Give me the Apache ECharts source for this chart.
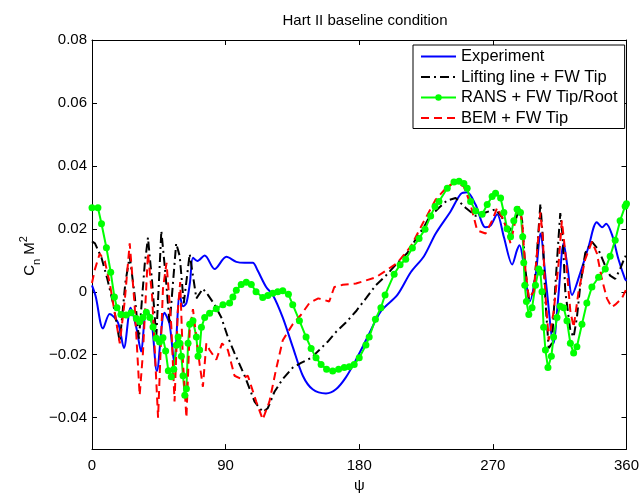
<!DOCTYPE html>
<html>
<head>
<meta charset="utf-8">
<script src="https://cdn.jsdelivr.net/npm/echarts@6/dist/echarts.min.js"></script>
<style>
  html, body { margin: 0; padding: 0; background: #fff; }
  #chart { width: 642px; height: 498px; }
</style>
</head>
<body>
<div id="chart"></div>
<script>
  // tick positions
  const xTicks = [0, 90, 180, 270, 360]
  const yTicks = [-0.04, -0.02, 0, 0.02, 0.04, 0.06, 0.08]

  // Experiment
  const expPsi = [0, 2.5, 7.4, 11.9, 17.5, 21.5, 26, 29.8, 33.1, 36.5, 39.8, 43.7, 48.8, 52.2, 55.4, 59.1, 61.3, 63.6, 66, 68, 71, 75.9, 82.6, 90.5, 97.2, 102.8, 108.3, 111.5, 117.3, 121.8, 128.5, 135.2, 142, 148.6, 157.6, 164.3, 171, 177.8, 185.6, 194.6, 205.7, 214.7, 223.6, 231.5, 241.6, 248.3, 252.7, 258.3, 265, 268.4, 272.9, 277.4, 283, 286.3, 288, 291, 295, 299, 302, 306, 310.8, 314, 317.7, 320.5, 323.3, 329, 334.5, 340, 343.6, 346.3, 350.4, 354.6, 359, 360]
  const expVal = [0.002, -0.0015, -0.0117, -0.0071, -0.0098, -0.0179, -0.0051, -0.0113, -0.019, -0.0062, -0.0082, -0.0252, -0.0067, -0.0102, -0.0225, -0.0009, -0.0046, -0.0036, 0.003, 0.0108, 0.0098, 0.0115, 0.0072, 0.0111, 0.0095, 0.0092, 0.0092, 0.0068, 0.0015, -0.001, -0.0082, -0.0175, -0.0267, -0.031, -0.0323, -0.031, -0.0272, -0.0216, -0.0144, -0.0062, -0.001, 0.0062, 0.0113, 0.0185, 0.0256, 0.031, 0.0316, 0.0277, 0.0205, 0.021, 0.0246, 0.0174, 0.0087, 0.0133, 0.0148, 0.008, -0.003, 0.006, 0.0185, 0.002, -0.0164, -0.002, 0.0154, 0.007, -0.001, 0.0062, 0.0144, 0.0221, 0.0205, 0.0216, 0.0179, 0.0103, 0.0041, 0.0035]

  // Lifting line + FW Tip
  const llPsi = [0, 2, 6.4, 10.3, 14.2, 18.7, 22.5, 25.4, 28.7, 31.6, 35.5, 37.7, 40.5, 43.3, 46.7, 49.5, 52.3, 56.7, 59.1, 61.8, 65.8, 68, 70.3, 74.7, 78.1, 82.6, 87.1, 91.5, 96, 102.8, 109.5, 115, 118.4, 122.9, 128.5, 135.2, 140.8, 147.6, 153.1, 158.7, 164.3, 171, 177.8, 184.5, 191.2, 197.9, 204.6, 212.4, 219.1, 223.6, 227, 233.7, 239.1, 244.9, 251.6, 258.4, 265.1, 271.8, 276.2, 280.7, 285.2, 287.9, 289.7, 291.9, 294.2, 297.5, 299.7, 302, 303.6, 305.4, 307.6, 309.8, 312.1, 314.3, 315.4, 317, 318.8, 322.2, 324.4, 326.6, 328.9, 332.2, 336.7, 341.2, 345.7, 349, 352.4, 355.7, 359.1, 360]
  const llVal = [0.016, 0.0154, 0.0108, 0.0041, -0.0036, -0.0159, 0.003, 0.0113, -0.001, -0.0149, 0.0087, 0.0172, 0.0031, -0.0144, 0.0193, 0.0056, -0.0103, 0.0154, 0.0113, -0.0037, 0.012, 0.0051, -0.0021, 0.001, -0.001, -0.0041, -0.0082, -0.0144, -0.0195, -0.0267, -0.0349, -0.0382, -0.037, -0.0318, -0.0277, -0.0241, -0.0226, -0.021, -0.0185, -0.0159, -0.0128, -0.0098, -0.0062, -0.0021, 0.0021, 0.0051, 0.0086, 0.0123, 0.0175, 0.0206, 0.0236, 0.0267, 0.029, 0.0298, 0.0267, 0.0241, 0.0252, 0.0262, 0.0236, 0.019, 0.0226, 0.0267, 0.0226, 0.0072, -0.0021, 0, 0.0123, 0.028, 0.0175, -0.0031, -0.0179, -0.0164, 0.0021, 0.0175, 0.025, 0.0175, 0, -0.0123, -0.0144, -0.0082, 0.0021, 0.0123, 0.0159, 0.0133, 0.0082, 0.0051, 0.0041, 0.0072, 0.0113, 0.011]

  // RANS + FW Tip/Root
  const ransPsi = [0, 4, 6.4, 9.7, 12.6, 15.1, 16.8, 19.5, 23, 26.4, 29.9, 32.2, 34.3, 36.6, 39, 41.1, 43.3, 45.5, 47.8, 49.6, 51.4, 53.4, 55.1, 56.8, 58, 59.1, 60.2, 61.3, 62.5, 63.6, 64.7, 65.8, 68, 70.3, 71.4, 72.5, 73.7, 75.9, 79.2, 83.7, 88.2, 92.7, 94.9, 97.2, 100.5, 103.9, 107.3, 110.5, 115, 118.4, 121.8, 125.1, 128.5, 132.3, 135.2, 139.7, 144.2, 147.6, 150.9, 154.3, 158, 162.1, 166.1, 169.9, 173.3, 176.6, 180, 184.5, 186.7, 190.9, 194.6, 197.4, 203.5, 207.5, 211.3, 215.8, 220.3, 224.3, 228.1, 231, 233.7, 239.3, 243.8, 247.2, 250.5, 252.7, 255, 258.4, 262.8, 266.2, 269.5, 271.8, 275.2, 277.4, 279.6, 281.9, 284.1, 286.3, 288.6, 290.1, 290.8, 291.5, 292.6, 294.2, 296.4, 298.7, 300.9, 302, 303.1, 304.2, 305.4, 307.1, 309.4, 310.9, 313.2, 315.4, 317.7, 319.9, 322.2, 324.4, 326.6, 330, 333.3, 336.7, 341.2, 345.7, 349, 352.4, 355.7, 359.1, 360]
  const ransVal = [0.0267, 0.0267, 0.0216, 0.014, 0.0062, -0.0017, -0.0051, -0.0072, -0.0074, -0.0067, -0.0085, -0.0095, -0.0082, -0.0065, -0.0082, -0.0112, -0.0148, -0.016, -0.0146, -0.0188, -0.0251, -0.027, -0.0246, -0.017, -0.0144, -0.0164, -0.0205, -0.0267, -0.0329, -0.0308, -0.0164, -0.0103, -0.0092, -0.0144, -0.0205, -0.0185, -0.0113, -0.0082, -0.0068, -0.0054, -0.0041, -0.0036, -0.0017, 0.0005, 0.0023, 0.003, 0.0023, 0, -0.0018, -0.0012, -0.0005, 0, 0.0003, -0.0008, -0.0041, -0.0092, -0.0144, -0.018, -0.021, -0.0231, -0.0246, -0.0252, -0.0246, -0.0241, -0.0238, -0.0231, -0.021, -0.0169, -0.0144, -0.0087, -0.0051, -0.001, 0.0056, 0.0086, 0.0103, 0.0139, 0.0169, 0.0199, 0.0241, 0.0271, 0.0287, 0.0329, 0.0349, 0.0351, 0.0344, 0.0329, 0.0287, 0.0257, 0.0246, 0.0277, 0.0303, 0.0313, 0.0298, 0.0252, 0.02, 0.0175, 0.0226, 0.0262, 0.0252, 0.0175, 0.0092, 0.0021, -0.0031, -0.0072, -0.0051, 0.0021, 0.0072, 0.0062, 0, -0.0113, -0.0185, -0.0241, -0.0205, -0.0144, -0.0082, -0.0046, -0.0051, -0.0092, -0.0164, -0.0195, -0.0175, -0.0103, -0.0036, 0.0015, 0.0046, 0.0072, 0.0113, 0.0164, 0.0226, 0.0272, 0.028]

  // BEM + FW Tip
  const bemPsi = [0, 2, 5.2, 8.6, 12, 15.3, 18.7, 22, 25.4, 28.7, 32.1, 34.3, 37.7, 40.5, 44.5, 47.8, 50.2, 53.4, 55.6, 57.8, 59.4, 61.3, 63.6, 65.8, 68, 72.5, 74.7, 77, 79.2, 83.7, 87.6, 91.5, 96, 100.5, 105, 110.6, 115, 119.5, 124, 128.5, 135.2, 140.8, 146.4, 152.4, 159.8, 163.2, 168.9, 177.8, 184.5, 191.2, 197.9, 205.7, 214.7, 223, 231.5, 239.3, 244.9, 250.5, 255, 259.4, 265.1, 269.5, 272.9, 277.4, 281.9, 285.2, 287.4, 289.7, 291.9, 294.2, 297.5, 299.7, 302, 303.6, 305.4, 307.6, 311, 314.3, 316.5, 318.8, 322.2, 324.4, 327.7, 332.2, 336.7, 340, 343.4, 346.8, 350, 352.4, 356.9, 360]
  const bemVal = [0.0028, 0.0072, 0.0121, 0.0098, 0.0026, -0.0067, -0.0164, -0.0031, 0.0154, -0.0041, -0.0329, -0.0195, 0.0123, -0.0015, -0.04, 0.001, 0.0092, -0.0108, -0.0349, -0.0062, 0.0031, -0.0226, -0.04, -0.0123, -0.0055, -0.0231, -0.0302, -0.0164, -0.0185, -0.0216, -0.0164, -0.0185, -0.0267, -0.0277, -0.0267, -0.0349, -0.0406, -0.0349, -0.0246, -0.0154, -0.0103, -0.0073, -0.0036, -0.0021, -0.0031, 0.0015, 0.0022, 0.0026, 0.0036, 0.0046, 0.0067, 0.0092, 0.0144, 0.0219, 0.0293, 0.0334, 0.0349, 0.0334, 0.0277, 0.0195, 0.0185, 0.0226, 0.0267, 0.0226, 0.0154, 0.0226, 0.0272, 0.0226, 0.0072, -0.0021, 0, 0.0123, 0.0252, 0.0175, -0.001, -0.0154, -0.0062, 0.0092, 0.0226, 0.0123, -0.0062, -0.0113, 0, 0.0103, 0.0159, 0.0123, 0.0041, -0.0021, -0.0049, -0.0041, -0.0021, 0.001]

  const pairs = (xs, ys) => xs.map((x, i) => [x, ys[i]])
  const font = 'Liberation Sans, Arial, Helvetica, sans-serif'

  // y tick label like matlab: 0 without decimals, real minus sign
  const yFmt = v => (Math.abs(v) < 1e-9 ? '0' : v.toFixed(2).replace('-', '\u2212'))

  // box axis: line on all four sides, ticks pointing inward
  const axisLine = { show: true, onZero: false, lineStyle: { color: '#000', width: 1 } }
  const tick = vals => ({ show: true, inside: true, length: 5, lineStyle: { color: '#000' }, customValues: vals })

  // legend entries without marker get an invisible symbol
  const noMark = { color: 'rgba(0,0,0,0)', opacity: 0, borderWidth: 0 }

  let mycharts = echarts.init(document.getElementById('chart'), null, { renderer: 'canvas' })
  mycharts.setOption({
    animation: false,
    backgroundColor: '#fff',
    textStyle: { fontFamily: font },
    title: {
      text: 'Hart II baseline condition',
      left: 360,
      textAlign: 'center',
      top: 8,
      textStyle: { fontSize: 15, fontWeight: 'normal', color: '#000', fontFamily: font }
    },
    grid: { left: 92, right: 14, top: 40, bottom: 36, containLabel: false },
    xAxis: [
      {
        type: 'value', min: 0, max: 360, position: 'bottom',
        name: 'ψ', nameLocation: 'middle', nameGap: 26,
        nameTextStyle: { fontSize: 15, color: '#000', fontFamily: font },
        axisLine: axisLine, axisTick: tick(xTicks), splitLine: { show: false },
        axisLabel: { show: true, color: '#000', fontSize: 15, margin: 9, fontFamily: font, customValues: xTicks }
      },
      {
        type: 'value', min: 0, max: 360, position: 'top',
        axisLine: axisLine, axisTick: tick(xTicks), splitLine: { show: false },
        axisLabel: { show: false }
      }
    ],
    yAxis: [
      {
        type: 'value', min: -0.05, max: 0.08, position: 'left',
        axisLine: axisLine, axisTick: tick(yTicks), splitLine: { show: false },
        axisLabel: { show: true, color: '#000', fontSize: 15, margin: 5, fontFamily: font, customValues: yTicks, formatter: yFmt }
      },
      {
        type: 'value', min: -0.05, max: 0.08, position: 'right',
        axisLine: axisLine, axisTick: tick(yTicks), splitLine: { show: false },
        axisLabel: { show: false }
      }
    ],
    legend: {
      orient: 'vertical',
      left: 413,
      top: 45,
      padding: [3, 7, 2, 7],
      itemWidth: 35,
      itemHeight: 8,
      itemGap: 3.5,
      borderColor: '#000',
      borderWidth: 1,
      borderRadius: 0,
      backgroundColor: '#fff',
      textStyle: { fontSize: 16.5, color: '#000', fontFamily: font },
      data: [
        { name: 'Experiment', itemStyle: noMark },
        { name: 'Lifting line + FW Tip', itemStyle: noMark },
        { name: 'RANS + FW Tip/Root' },
        { name: 'BEM + FW Tip', itemStyle: noMark }
      ]
    },
    graphic: [
      {
        type: 'text',
        x: 30,
        y: 256,
        rotation: Math.PI / 2,
        style: {
          text: '{a|C}{s|n}{a| M}{p|2}',
          align: 'center',
          verticalAlign: 'middle',
          fill: '#000',
          rich: {
            a: { fontSize: 15, fontFamily: font, lineHeight: 24, verticalAlign: 'middle' },
            s: { fontSize: 11, fontFamily: font, lineHeight: 11, verticalAlign: 'bottom' },
            p: { fontSize: 11, fontFamily: font, lineHeight: 11, verticalAlign: 'top' }
          }
        }
      }
    ],
    series: [
      {
        name: 'Experiment',
        type: 'line',
        data: pairs(expPsi, expVal),
        symbol: 'none',
        smooth: 0.3,
        lineStyle: { color: '#0000ff', width: 2 },
        itemStyle: { color: '#0000ff' }
      },
      {
        name: 'Lifting line + FW Tip',
        type: 'line',
        data: pairs(llPsi, llVal),
        symbol: 'none',
        lineStyle: { color: '#000', width: 2, type: [9, 4, 2, 4] },
        itemStyle: { color: '#000' }
      },
      {
        name: 'RANS + FW Tip/Root',
        type: 'line',
        data: pairs(ransPsi, ransVal),
        symbol: 'circle',
        symbolSize: 7,
        showAllSymbol: true,
        lineStyle: { color: '#00ff00', width: 2 },
        itemStyle: { color: '#00ff00', borderWidth: 0 }
      },
      {
        name: 'BEM + FW Tip',
        type: 'line',
        data: pairs(bemPsi, bemVal),
        symbol: 'none',
        lineStyle: { color: '#ff0000', width: 2, type: [8, 5] },
        itemStyle: { color: '#ff0000' }
      }
    ]
  })
</script>
</body>
</html>
